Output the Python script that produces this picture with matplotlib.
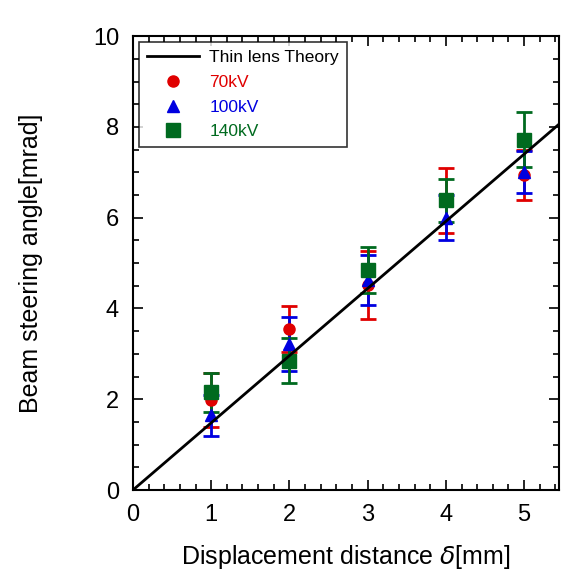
import numpy as np
import matplotlib
matplotlib.use("Agg")
import matplotlib.pyplot as plt
from matplotlib.lines import Line2D
from matplotlib.ticker import MultipleLocator

plt.rcParams["font.family"] = ["Liberation Sans", "DejaVu Sans"]

# data
displacement = [1, 2, 3, 4, 5]
angle_70kv = [1.98, 3.55, 4.52, 6.38, 6.94]
err_70kv = [0.6, 0.5, 0.75, 0.72, 0.55]
angle_100kv = [1.65, 3.22, 4.62, 6.0, 7.0]
err_100kv = [0.45, 0.6, 0.55, 0.5, 0.46]
angle_140kv = [2.15, 2.85, 4.85, 6.38, 7.72]
err_140kv = [0.43, 0.5, 0.5, 0.48, 0.6]
theory_x = [0, 5.5]
theory_slope = 1.48

red = "#e00000"
blue = "#0000e0"
green = "#006a1f"

fig = plt.figure(figsize=(5.61, 5.83), dpi=100)
ax = fig.add_axes([0.237, 0.1595, 0.76, 0.7785])

ax.plot(theory_x, [theory_slope * v for v in theory_x], color="black",
        linewidth=2, zorder=5)

series = [
    (angle_70kv, err_70kv, red, "o", 8, "70kV"),
    (angle_100kv, err_100kv, blue, "^", 9, "100kV"),
    (angle_140kv, err_140kv, green, "s", 10, "140kV"),
]
handles = [Line2D([], [], color="black", linewidth=2)]
labels = ["Thin lens Theory"]
for vals, errs, col, mk, ms, lab in series:
    ax.errorbar(displacement, vals, yerr=errs, fmt=mk, color=col,
                markersize=ms, elinewidth=2, capsize=6, capthick=2,
                zorder=4)
    handles.append(Line2D([], [], linestyle="none", marker=mk, color=col,
                          markersize=ms))
    labels.append(lab)

ax.set_xlim(0, 5.45)
ax.set_ylim(0, 10)
ax.xaxis.set_major_locator(MultipleLocator(1))
ax.xaxis.set_minor_locator(MultipleLocator(0.2))
ax.yaxis.set_major_locator(MultipleLocator(2))
ax.yaxis.set_minor_locator(MultipleLocator(0.5))
ax.tick_params(which="both", direction="in", top=True, right=True,
               labelsize=17, width=1.2)
ax.tick_params(which="major", length=7, pad=10)
ax.tick_params(which="minor", length=4)
for s in ax.spines.values():
    s.set_linewidth(1.5)

ax.set_ylabel("Beam steering angle[mrad]", fontsize=18, labelpad=36)
ax.set_xlabel("Displacement distance $\\delta$[mm]", fontsize=18, labelpad=12)

leg = ax.legend(handles, labels, loc="upper left", fontsize=12.5, frameon=True,
                fancybox=False, edgecolor="black", borderaxespad=0.35,
                handlelength=3.0, labelspacing=0.55, borderpad=0.45,
                handletextpad=0.6)
leg.get_frame().set_linewidth(1.2)
for txt, col in zip(leg.get_texts(), ["black", red, blue, green]):
    txt.set_color(col)

fig.savefig("out.png", dpi=100)
